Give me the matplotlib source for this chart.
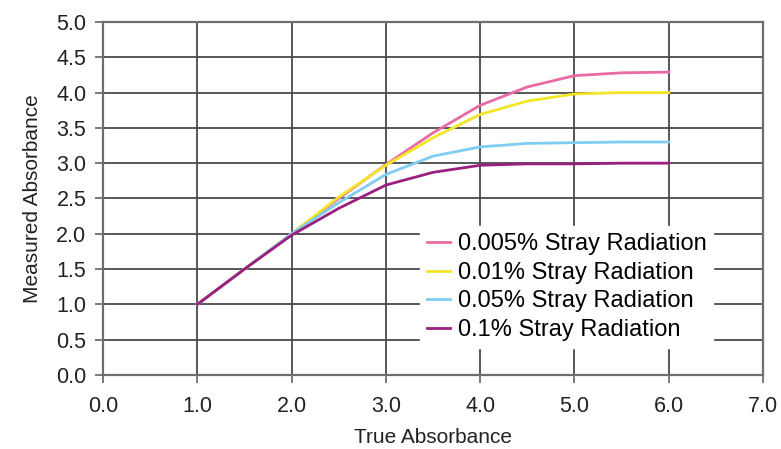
import matplotlib.pyplot as plt
import numpy as np

plt.rcParams['font.family'] = ['Liberation Sans', 'DejaVu Sans']

# True absorbance (x) and measured absorbance for each stray radiation level
true_abs = [1.0, 1.5, 2.0, 2.5, 3.0, 3.5, 4.0, 4.5, 5.0, 5.5, 6.0]
stray_0005 = [1.0, 1.5, 2.0, 2.5, 2.98, 3.43, 3.82, 4.08, 4.24, 4.28, 4.29]
stray_001 = [1.0, 1.5, 2.0, 2.52, 2.97, 3.36, 3.69, 3.88, 3.98, 4.0, 4.0]
stray_005 = [1.0, 1.5, 2.0, 2.44, 2.84, 3.1, 3.23, 3.28, 3.29, 3.3, 3.3]
stray_01 = [1.0, 1.5, 1.98, 2.36, 2.69, 2.87, 2.97, 2.99, 2.99, 3.0, 3.0]

labels = ['0.005% Stray Radiation', '0.01% Stray Radiation',
          '0.05% Stray Radiation', '0.1% Stray Radiation']
colors = ['#ea6aa6', '#f4e526', '#7fcdf0', '#9b1f80']
series = [stray_0005, stray_001, stray_005, stray_01]

fig = plt.figure(figsize=(7.81, 4.49), dpi=100)
ax = fig.add_axes([0.132, 0.165, 0.845, 0.786])

for vals, col, lab in zip(series, colors, labels):
    ax.plot(true_abs, vals, color=col, lw=2, label=lab, zorder=3)

ax.set_xlim(0, 7)
ax.set_ylim(0, 5)
ax.set_xticks(np.arange(0, 7.01, 1.0))
ax.set_yticks(np.arange(0, 5.01, 0.5))
ax.set_xticklabels(['%.1f' % v for v in np.arange(0, 7.01, 1.0)])
ax.set_yticklabels(['%.1f' % v for v in np.arange(0, 5.01, 0.5)])
ax.grid(True, color='#4a4a4a', lw=1.3, zorder=1)
ax.set_axisbelow(True)
for s in ax.spines.values():
    s.set_color('#6e6e6e')
    s.set_linewidth(1.6)
ax.tick_params(direction='out', length=6, width=1.3, color='#6e6e6e',
               labelsize=15.5, labelcolor='#222222')
ax.tick_params(axis='x', pad=9)
ax.tick_params(axis='y', pad=6)

ax.set_xlabel('True Absorbance', fontsize=15, color='#222222', labelpad=8)
ax.set_ylabel('Measured Absorbance', fontsize=15, color='#222222', labelpad=10)

leg = ax.legend(loc='upper left', bbox_to_anchor=(0.462, 0.455), fontsize=17,
                frameon=True, fancybox=False, handlelength=1.0,
                handletextpad=0.3, labelspacing=0.28, borderpad=0.3)
leg.get_frame().set_facecolor('white')
leg.get_frame().set_edgecolor('white')
leg.get_frame().set_alpha(1)

fig.savefig('out.png', dpi=100)
